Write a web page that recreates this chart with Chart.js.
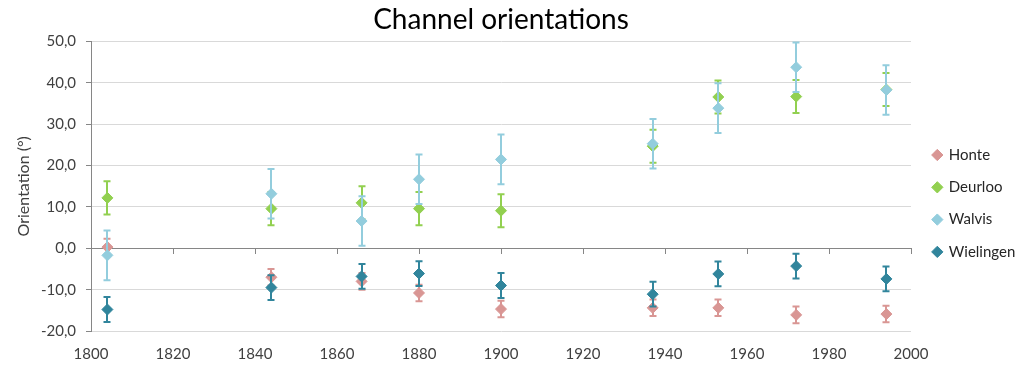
<!DOCTYPE html>
<html>
<head>
<meta charset="utf-8">
<title>Channel orientations</title>
<script src="https://cdn.jsdelivr.net/npm/chart.js@4.4.1/dist/chart.umd.min.js"></script>
<style>
  html, body { margin: 0; padding: 0; background: #fff; }
  #wrap { width: 1022px; height: 365px; }
</style>
</head>
<body>
<div id="wrap"><canvas id="orientChart" width="1022" height="365"></canvas></div>
<script>
// DATA
const years = [1804, 1844, 1866, 1880, 1900, 1937, 1953, 1972, 1994];

const honte     = [0.3, -7.0, -8.0, -10.8, -14.7, -14.4, -14.4, -16.1, -15.9];
const deurloo   = [12.2, 9.6, 11.0, 9.6, 9.1, 24.7, 36.6, 36.7, 38.4];
const walvis    = [-1.7, 13.2, 6.6, 16.7, 21.5, 25.3, 33.9, 43.8, 38.3];
const wielingen = [-14.8, -9.5, -6.8, -6.1, -9.0, -11.1, -6.2, -4.3, -7.4];

// error bar half-widths (+/-)
const honteErr     = [2, 2, 2, 2, 2, 2, 2, 2, 2];
const deurlooErr   = [4, 4, 4, 4, 4, 4, 4, 4, 4];
const walvisErr    = [6, 6, 6, 6, 6, 6, 6, 6, 6];
const wielingenErr = [3, 3, 3, 3, 3, 3, 3, 3, 3];

const seriesNames = ['Honte', 'Deurloo', 'Walvis', 'Wielingen'];

// axis ranges / tick steps
const xRange = [1800, 2000, 20];
const yRange = [-20, 50, 10];

// COLOURS
const colours = ['#d99694', '#92d050', '#93cddd', '#31859c'];
const textCol = '#404040';

Chart.defaults.font.family = 'Lato';

function toPoints(vals) {
  return years.map((yr, i) => ({ x: yr, y: vals[i] }));
}

// ERROR BARS - drawn under each series' markers
const errorBars = {
  id: 'errorBars',
  beforeDatasetDraw(chart, args) {
    const ds = chart.data.datasets[args.index];
    if (!ds.errors) return;
    const yScale = chart.scales.y;
    const ctx = chart.ctx;
    ctx.save();
    ctx.strokeStyle = ds.borderColor;
    ctx.lineWidth = 2;
    ctx.beginPath();
    args.meta.data.forEach((pt, i) => {
      const v = ds.data[i].y;
      const e = ds.errors[i];
      const top = yScale.getPixelForValue(v + e);
      const bot = yScale.getPixelForValue(v - e);
      const px = Math.round(pt.x);
      ctx.moveTo(px, top);
      ctx.lineTo(px, bot);
      ctx.moveTo(px - 3.5, top);
      ctx.lineTo(px + 3.5, top);
      ctx.moveTo(px - 3.5, bot);
      ctx.lineTo(px + 3.5, bot);
    });
    ctx.stroke();
    ctx.restore();
  }
};

// tick marks on the horizontal axis, which crosses at y = 0
const zeroAxisTicks = {
  id: 'zeroAxisTicks',
  beforeDatasetsDraw(chart) {
    const { ctx, scales: { x, y } } = chart;
    const y0 = Math.round(y.getPixelForValue(0));
    ctx.save();
    ctx.strokeStyle = '#868686';
    ctx.lineWidth = 1;
    ctx.beginPath();
    x.ticks.forEach(t => {
      if (t.value === x.min) return;
      const px = Math.round(x.getPixelForValue(t.value)) + 0.5;
      ctx.moveTo(px, y0);
      ctx.lineTo(px, y0 + 6);
    });
    ctx.stroke();
    ctx.restore();
  }
};

const allValues = [honte, deurloo, walvis, wielingen];
const allErrors = [honteErr, deurlooErr, walvisErr, wielingenErr];

const datasets = seriesNames.map((name, i) => ({
  label: name,
  data: toPoints(allValues[i]),
  errors: allErrors[i],
  backgroundColor: colours[i],
  borderColor: colours[i],
  borderWidth: 1,
  pointStyle: 'rectRot',
  pointRadius: 5.5,
  showLine: false,
  order: seriesNames.length - 1 - i   // later series drawn on top
}));

// CHART
const ctx = document.getElementById('orientChart');
new Chart(ctx, {
  type: 'scatter',
  data: { datasets },
  options: {
    responsive: false,
    animation: false,
    devicePixelRatio: 1,
    layout: { padding: 0 },
    plugins: {
      tooltip: { enabled: false },
      title: {
        display: true,
        text: 'Channel orientations',
        fullSize: false,
        color: '#000',
        font: { size: 28, weight: 'normal' },
        padding: { top: 3, bottom: 5 }
      },
      legend: {
        position: 'right',
        maxWidth: 106,
        title: { display: true, text: '', font: { size: 12 }, padding: { top: 0, bottom: 27.5 } },
        labels: {
          usePointStyle: true,
          boxWidth: 8,
          boxHeight: 8,
          padding: 17.3,
          color: '#262626',
          font: { size: 15 },
          sort: (a, b) => a.datasetIndex - b.datasetIndex
        }
      }
    },
    scales: {
      x: {
        type: 'linear',
        min: xRange[0],
        max: xRange[1],
        ticks: {
          stepSize: xRange[2],
          callback: v => String(v),
          color: textCol,
          font: { size: 15 },
          padding: 14,
          maxRotation: 0
        },
        grid: { display: false, drawTicks: false },
        border: { display: false },
        afterFit(scale) { scale.height = 34; }
      },
      y: {
        min: yRange[0],
        max: yRange[1],
        ticks: {
          stepSize: yRange[2],
          callback: v => v.toFixed(1).replace('.', ','),
          color: textCol,
          font: { size: 15 },
          padding: 10
        },
        grid: {
          color: c => (c.tick && c.tick.value === 0 ? '#868686' : '#d9d9d9'),
          tickColor: '#868686',
          tickLength: 5,
          lineWidth: 1
        },
        border: { color: '#868686' },
        title: {
          display: true,
          text: 'Orientation (°)',
          color: textCol,
          font: { size: 16 },
          padding: { top: 14, bottom: 0 }
        },
        afterFit(scale) { scale.width = 91; }
      },
      // empty spacer between plot and legend
      y2: {
        position: 'right',
        grid: { display: false, drawTicks: false },
        border: { display: false },
        ticks: { display: false },
        afterFit(scale) { scale.width = 5; }
      }
    }
  },
  plugins: [zeroAxisTicks, errorBars]
});
</script>
</body>
</html>
